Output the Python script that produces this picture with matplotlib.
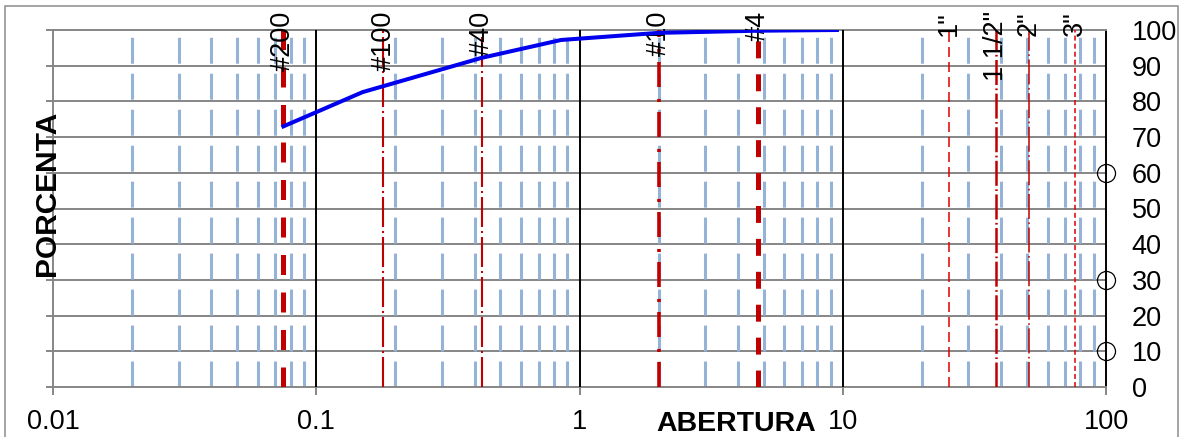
import matplotlib
matplotlib.use("Agg")
import matplotlib.pyplot as plt
from matplotlib.patches import Rectangle
from matplotlib.ticker import NullLocator

plt.rcParams['font.family'] = ['Liberation Sans', 'DejaVu Sans']
plt.rcParams['lines.scale_dashes'] = False

# grain size curve
sizes = [0.075, 0.15, 0.425, 0.85, 2.0, 4.75, 9.5]
passing = [73, 82.6, 92.2, 97.2, 99.2, 99.8, 100]

# sieve reference lines
sieve_names = ['#200', '#100', '#40', '#10', '#4', '1"', '1 1/2"', '2"', '3"']
sieve_open = [0.075, 0.18, 0.425, 2.0, 4.75, 25.4, 38.1, 50.8, 76.2]

# markers on the right edge
circle_x = [100, 100, 100]
circle_y = [60, 30, 10]

x_ticks = [0.01, 0.1, 1, 10, 100]
x_labels = ['0.01', '0.1', '1', '10', '100']
y_ticks = list(range(0, 101, 10))

red = '#C00000'
gray = '#868686'
sieve_styles = [
    dict(lw=3.6, dashes=(14.4, 12.6), color=red),
    dict(lw=1.5, dashes=(21.6, 2.9, 1.4, 2.9), color=red),
    dict(lw=1.5, dashes=(21.6, 2.9, 1.4, 2.9), color=red),
    dict(lw=2.6, dashes=(18, 7.2, 2.2, 8.6), color=red),
    dict(lw=3.6, dashes=(12.2, 11.5), color=red),
    dict(lw=1.1, dashes=(7.2, 3.6), color='#E00000'),
    dict(lw=1.8, dashes=(18, 2.5, 1.2, 2.5), color=red),
    dict(lw=1.1, dashes=(18, 2.5, 1.2, 2.5), color=red),
    dict(lw=1.1, dashes=(3.6, 2.2), color='#E00000'),
]

fig = plt.figure(figsize=(11.84, 4.37), dpi=100)
ax = fig.add_axes([53 / 1184, 50 / 437, 1053 / 1184, 357 / 437])

ax.set_xscale('log')
ax.set_xlim(0.01, 100)
ax.set_ylim(0, 100)

# horizontal grid
for y in y_ticks[1:-1]:
    ax.axhline(y, color=gray, lw=1.4, zorder=1)

# minor vertical dashed grid
for dec in [0.01, 0.1, 1, 10]:
    for k in range(2, 10):
        ax.axvline(k * dec, color='#95B3D7', lw=2.2, dashes=(18.7, 7.2),
                   dash_capstyle='butt', zorder=2)

# decade lines
for xv in [0.1, 1, 10]:
    ax.axvline(xv, color='black', lw=1.4, zorder=3)

# sieve lines and labels
for name, xv, st in zip(sieve_names, sieve_open, sieve_styles):
    ax.axvline(xv, color=st['color'], lw=st['lw'], dashes=st['dashes'],
               dash_capstyle='butt', zorder=4)
    ax.text(xv, 105.3, name, rotation=90, ha='center', va='top',
            fontsize=19.5, clip_on=False, zorder=5)

ax.plot(sizes, passing, color='#0000EE', lw=2.9, zorder=6)
ax.plot(circle_x, circle_y, 'o', mfc='none', mec='black', ms=13, mew=0.9,
        clip_on=False, zorder=7)

for s in ['left', 'bottom', 'top']:
    ax.spines[s].set_color(gray)
    ax.spines[s].set_linewidth(1.4)
ax.spines['right'].set_color('black')
ax.spines['right'].set_linewidth(1.4)

ax.set_xticks(x_ticks)
ax.set_xticklabels(x_labels)
ax.xaxis.set_minor_locator(NullLocator())
ax.tick_params(axis='x', direction='out', length=6, width=1.4, color=gray,
               pad=9.5, labelsize=19.5)
ax.set_yticks(y_ticks)
ax.tick_params(axis='y', left=True, right=False, labelleft=False,
               labelright=True, direction='out', length=5, width=1.4,
               color=gray, pad=13.5, labelsize=19.5)

fig.text(47.5 / 1184, 1 - 193 / 437, 'PORCENTA', rotation=90, ha='center',
         va='center', fontsize=21.5, fontweight='bold')
fig.text(736 / 1184, (437 - 431) / 437, 'ABERTURA', ha='center',
         va='baseline', fontsize=20.5, fontweight='bold')

fig.patches.append(Rectangle((5 / 1184, -0.1), 1173 / 1184, 1.1 - 6 / 437,
                             transform=fig.transFigure, fill=False,
                             edgecolor='#8C8C8C', lw=1.1))

fig.savefig('out.png', dpi=100)
